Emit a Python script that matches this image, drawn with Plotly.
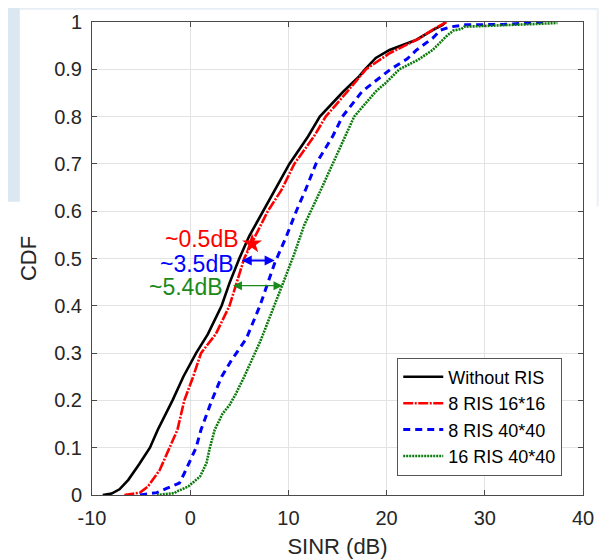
import plotly.graph_objects as go

# ---- data ----
x_without = [-8.9, -8.0, -7.2, -6.3, -5.2, -4.1, -3.3, -1.8, -0.7, 0.6, 1.8, 3.2, 4.0, 5.0, 6.0, 7.4, 8.6,
             10.1, 12.0, 13.2, 15.6, 17.2, 17.8, 18.9, 20.3, 22.0, 23.0, 24.7, 25.7, 26.0]
y_without = [0, 0.003, 0.012, 0.032, 0.065, 0.1, 0.138, 0.2, 0.25, 0.3, 0.34, 0.4, 0.448, 0.5, 0.547, 0.6, 0.645,
             0.7, 0.758, 0.8, 0.853, 0.885, 0.9, 0.924, 0.941, 0.955, 0.962, 0.983, 0.994, 1.0]

x_8ris16 = [-6.7, -5.1, -4.3, -3.1, -2.1, -1.3, -0.6, 0.3, 1.1, 1.8, 2.6, 4.0, 4.7, 5.5, 6.3, 7.9, 9.3, 10.6,
            12.6, 13.8, 16.0, 17.9, 20.3, 22.3, 23.3, 24.8, 26.1]
y_8ris16 = [0, 0.005, 0.018, 0.053, 0.1, 0.138, 0.2, 0.25, 0.3, 0.318, 0.34, 0.4, 0.448, 0.5, 0.534, 0.6, 0.645, 0.7,
            0.758, 0.8, 0.853, 0.9, 0.934, 0.955, 0.965, 0.985, 1.0]

x_8ris40 = [-5.1, -3.4, -2.4, -1.1, -0.6, 0.6, 1.1, 2.2, 3.2, 4.2, 5.7, 7.1, 8.6, 9.8, 10.8, 11.8, 12.8,
            14.5, 15.5, 17.5, 20.4, 22.1, 23.0, 24.7, 25.5, 26.6, 28.1, 32.0, 36.1]
y_8ris40 = [0, 0.005, 0.014, 0.025, 0.046, 0.1, 0.138, 0.2, 0.25, 0.285, 0.33, 0.4, 0.49, 0.547, 0.6, 0.648, 0.7,
            0.758, 0.8, 0.853, 0.9, 0.922, 0.94, 0.966, 0.983, 0.99, 0.994, 0.995, 1.0]

x_16ris40 = [-3.4, -1.6, -1.4, -0.2, 1.0, 1.65, 2.0, 2.5, 3.3, 4.0, 4.6, 5.5, 7.2, 8.6, 9.4, 10.6, 11.6, 13.3,
             14.5, 15.7, 16.7, 18.9, 19.9, 21.3, 23.2, 24.7, 26.1, 26.8, 27.6, 27.9, 31.0, 35.4, 37.4]
y_16ris40 = [0, 0.004, 0.007, 0.018, 0.039, 0.067, 0.1, 0.138, 0.172, 0.19, 0.212, 0.25, 0.328, 0.4, 0.445, 0.51, 0.57,
             0.645, 0.7, 0.758, 0.8, 0.853, 0.871, 0.9, 0.92, 0.941, 0.97, 0.982, 0.985, 0.99, 0.992, 0.996, 0.998]

star_x = [6.3]
star_y = [0.531]

x_tickvals = [-10, 0, 10, 20, 30, 40]
x_ticktext = ["-10", "0", "10", "20", "30", "40"]
y_tickvals = [0, 0.1, 0.2, 0.3, 0.4, 0.5, 0.6, 0.7, 0.8, 0.9, 1]
y_ticktext = ["0", "0.1", "0.2", "0.3", "0.4", "0.5", "0.6", "0.7", "0.8", "0.9", "1"]

gap_labels = ["~0.5dB", "~3.5dB", "~5.4dB"]

# ---- figure ----
FONT = "Liberation Sans, Arial, sans-serif"
TXT = "#262626"

fig = go.Figure()
fig.add_trace(go.Scatter(x=x_without, y=y_without, mode="lines", name="Without RIS",
                         line=dict(color="black", width=2.6)))
fig.add_trace(go.Scatter(x=x_8ris16, y=y_8ris16, mode="lines", name="8 RIS 16*16",
                         line=dict(color="#ff0000", width=2.6, dash="10px,1.5px,2px,1.5px")))
fig.add_trace(go.Scatter(x=x_8ris40, y=y_8ris40, mode="lines", name="8 RIS 40*40",
                         line=dict(color="#0000ff", width=3, dash="7px,5px")))
fig.add_trace(go.Scatter(x=x_16ris40, y=y_16ris40, mode="lines", name="16 RIS 40*40",
                         line=dict(color="#0a7a0a", width=2.6, dash="2px,1px")))
fig.add_trace(go.Scatter(x=star_x, y=star_y, mode="markers", showlegend=False,
                         marker=dict(symbol="star", size=15, color="#ff0000")))

annos = [
    dict(x=5.1, y=0.542, text=gap_labels[0], showarrow=False, xanchor="right", yanchor="middle",
         height=20, borderpad=0, font=dict(size=23, color="#ff0000", family=FONT)),
    dict(x=4.55, y=0.488, text=gap_labels[1], showarrow=False, xanchor="right", yanchor="middle",
         height=20, borderpad=0, font=dict(size=23, color="#0000ff", family=FONT)),
    dict(x=3.45, y=0.440, text=gap_labels[2], showarrow=False, xanchor="right", yanchor="middle",
         height=20, borderpad=0, font=dict(size=23, color="#1a8a1a", family=FONT)),
    dict(x=8.6, y=0.496, ax=5.1, ay=0.496, xref="x", yref="y", axref="x", ayref="y", text="",
         showarrow=True, arrowside="end+start", arrowhead=2, startarrowhead=2, arrowwidth=2,
         arrowsize=1, startarrowsize=1, arrowcolor="#0000ff"),
    dict(x=9.4, y=0.4425, ax=4.2, ay=0.4425, xref="x", yref="y", axref="x", ayref="y", text="",
         showarrow=True, arrowside="end+start", arrowhead=2, startarrowhead=2, arrowwidth=1.2,
         arrowsize=1.5, startarrowsize=1.5, arrowcolor="#1a8a1a"),
]

shapes = [
    dict(type="rect", xref="paper", yref="paper", x0=-0.25, x1=1.1, y0=1.026, y1=1.1,
         fillcolor="#e6eef5", line=dict(width=0), layer="below"),
    dict(type="rect", xref="paper", yref="paper", x0=-0.25, x1=-0.147, y0=0.62, y1=1.1,
         fillcolor="#dbe8f1", line=dict(width=0), layer="below"),
    dict(type="rect", xref="paper", yref="paper", x0=1.0275, x1=1.1, y0=0.61, y1=1.1,
         fillcolor="#eef1f6", line=dict(width=0), layer="below"),
]

axis_common = dict(showline=True, mirror="ticks", linecolor="#4a4a4a", linewidth=1,
                   ticks="inside", ticklen=5, tickcolor="#4a4a4a",
                   showgrid=True, gridcolor="#e3e3e3", gridwidth=1, zeroline=False,
                   tickfont=dict(size=20, color=TXT, family=FONT))

fig.update_layout(
    width=599, height=552,
    margin=dict(l=84.2, r=23.5, t=14.3, b=64.7, autoexpand=False),
    paper_bgcolor="white", plot_bgcolor="white",
    font=dict(family=FONT, color=TXT),
    xaxis=dict(range=[-10, 40], tickvals=x_tickvals, ticktext=x_ticktext, ticklabelstandoff=5,
               title=dict(text="SINR (dB)", font=dict(size=22, color=TXT, family=FONT), standoff=10),
               **axis_common),
    yaxis=dict(range=[0, 1], tickvals=y_tickvals, ticktext=y_ticktext, ticklabelstandoff=5,
               title=dict(text="CDF", font=dict(size=22, color=TXT, family=FONT), standoff=11),
               **axis_common),
    legend=dict(x=0.9577, y=0.041, xanchor="right", yanchor="bottom",
                bgcolor="white", bordercolor="#555555", borderwidth=1,
                font=dict(size=18, color="black", family=FONT),
                tracegroupgap=0, itemwidth=40),
    annotations=annos,
    shapes=shapes,
    showlegend=True,
)

fig.write_html("out.html")
